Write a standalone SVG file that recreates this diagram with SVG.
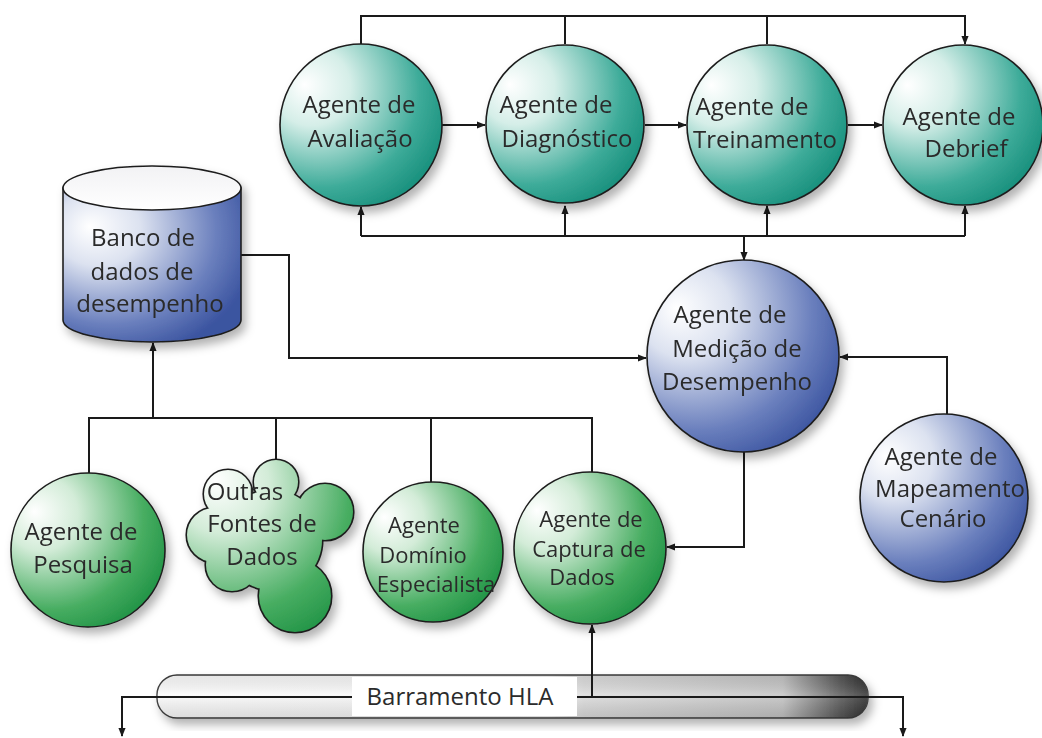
<svg xmlns="http://www.w3.org/2000/svg" width="1042" height="738" viewBox="0 0 1042 738">
  <defs>
    <radialGradient id="gTeal" cx="0.3" cy="0.3" r="0.8" fx="0.15" fy="0.25">
      <stop offset="0" stop-color="#ffffff"/>
      <stop offset="0.3" stop-color="#d5eee8"/>
      <stop offset="0.75" stop-color="#3dab99"/>
      <stop offset="1" stop-color="#168e7b"/>
    </radialGradient>
    <radialGradient id="gGreen" cx="0.3" cy="0.3" r="0.8" fx="0.15" fy="0.25">
      <stop offset="0" stop-color="#ffffff"/>
      <stop offset="0.3" stop-color="#d3ecd8"/>
      <stop offset="0.75" stop-color="#47ad61"/>
      <stop offset="1" stop-color="#1f9245"/>
    </radialGradient>
    <radialGradient id="gBlue" cx="0.3" cy="0.3" r="0.8" fx="0.15" fy="0.25">
      <stop offset="0" stop-color="#ffffff"/>
      <stop offset="0.3" stop-color="#dce2f0"/>
      <stop offset="0.75" stop-color="#6a7fbd"/>
      <stop offset="1" stop-color="#3b54a0"/>
    </radialGradient>
    <radialGradient id="gCloud" gradientUnits="userSpaceOnUse" cx="235" cy="495" r="160" fx="215" fy="480">
      <stop offset="0" stop-color="#ffffff"/>
      <stop offset="0.3" stop-color="#d3ecd8"/>
      <stop offset="0.75" stop-color="#47ad61"/>
      <stop offset="1" stop-color="#1f9245"/>
    </radialGradient>
    <linearGradient id="gCylTop" x1="0" y1="0" x2="0" y2="1">
      <stop offset="0" stop-color="#f2f2f4"/>
      <stop offset="1" stop-color="#ffffff"/>
    </linearGradient>
    <linearGradient id="gTube" x1="0" y1="0" x2="1" y2="0">
      <stop offset="0" stop-color="#fbfbfb"/>
      <stop offset="0.55" stop-color="#f4f4f4"/>
      <stop offset="0.6" stop-color="#dcdcdc"/>
      <stop offset="0.88" stop-color="#c4c4c4"/>
      <stop offset="0.96" stop-color="#5a5a5a"/>
      <stop offset="1" stop-color="#2e2e2e"/>
    </linearGradient>
    <linearGradient id="gTubeShade" x1="0" y1="0" x2="0" y2="1">
      <stop offset="0" stop-color="#000" stop-opacity="0.08"/>
      <stop offset="0.45" stop-color="#fff" stop-opacity="0.15"/>
      <stop offset="1" stop-color="#000" stop-opacity="0.12"/>
    </linearGradient>
    <filter id="shadow" x="-20%" y="-20%" width="150%" height="150%">
      <feDropShadow dx="4" dy="6" stdDeviation="5" flood-color="#000" flood-opacity="0.3"/>
    </filter>
    <marker id="arrow" viewBox="0 0 10 10" refX="9" refY="5" markerWidth="9" markerHeight="9" markerUnits="userSpaceOnUse" orient="auto">
      <path d="M0,1 L10,5 L0,9 z" fill="#1a1a1a"/>
    </marker>
  </defs>
  <style>
    .node { stroke: #1e1e1e; stroke-width: 1.6; }
    .lbl { font-family: "Open Sans", "DejaVu Sans", sans-serif; font-size: 24px; fill: #2b2b2b; text-anchor: middle; }
    .sm { font-size: 22px; }
    .wire { fill: none; stroke: #1a1a1a; stroke-width: 2; }
    .arr { marker-end: url(#arrow); }
  </style>

  <rect width="1042" height="738" fill="#ffffff"/>

  <!-- HLA bus tube -->
  <g id="barramento-hla">
    <rect x="157" y="675" width="711" height="43" rx="20" fill="url(#gTube)" stroke="#3a3a3a" stroke-width="1.4" filter="url(#shadow)"/>
    <rect x="157" y="675" width="711" height="43" rx="20" fill="url(#gTubeShade)"/>
    <rect x="352" y="677" width="225" height="39" fill="#ffffff"/>
    <text class="lbl" x="460" y="705">Barramento HLA</text>
  </g>

  <!-- connectors -->
  <g id="connectors">
    <!-- top distribution line into Debrief -->
    <path class="wire arr" d="M361,44 V16 H965 V44"/>
    <path class="wire" d="M565,44 V16"/>
    <path class="wire" d="M767,44 V16"/>
    <!-- chain of top agents -->
    <path class="wire arr" d="M442,125 H485"/>
    <path class="wire arr" d="M645,125 H686"/>
    <path class="wire arr" d="M848,125 H882"/>
    <!-- lower line feeding the top agents -->
    <path class="wire" d="M361,236 H965"/>
    <path class="wire arr" d="M361,236 V207"/>
    <path class="wire arr" d="M565,236 V206"/>
    <path class="wire arr" d="M767,236 V206"/>
    <path class="wire arr" d="M965,236 V206"/>
    <path class="wire arr" d="M744,236 V260"/>
    <!-- database to performance measurement -->
    <path class="wire arr" d="M241,255 H289 V358 H646"/>
    <!-- scenario mapping to performance measurement -->
    <path class="wire arr" d="M947,414 V357 H840"/>
    <!-- performance measurement to data capture -->
    <path class="wire arr" d="M744,452 V547 H667"/>
    <!-- data sources line into database -->
    <path class="wire" d="M89,473 V418 H592 V472"/>
    <path class="wire" d="M276,418 V460"/>
    <path class="wire" d="M431,418 V482"/>
    <path class="wire arr" d="M153,418 V343"/>
    <!-- HLA bus links -->
    <path class="wire arr" d="M592,697 V625"/>
    <path class="wire arr" d="M352,697 H122 V736"/>
    <path class="wire arr" d="M577,697 H903 V736"/>
  </g>

  <g id="agente-avaliacao" filter="url(#shadow)">
    <circle class="node" cx="361" cy="125" r="81" fill="url(#gTeal)"/>
    <text class="lbl" x="359" y="113">Agente de</text>
    <text class="lbl" x="360" y="147">Avaliação</text>
  </g>
  <g id="agente-diagnostico" filter="url(#shadow)">
    <circle class="node" cx="565" cy="124" r="79" fill="url(#gTeal)"/>
    <text class="lbl" x="556" y="113">Agente de</text>
    <text class="lbl" x="567" y="147">Diagnóstico</text>
  </g>
  <g id="agente-treinamento" filter="url(#shadow)">
    <circle class="node" cx="767" cy="125" r="80" fill="url(#gTeal)"/>
    <text class="lbl" x="752" y="115">Agente de</text>
    <text class="lbl" x="765" y="148">Treinamento</text>
  </g>
  <g id="agente-debrief" filter="url(#shadow)">
    <circle class="node" cx="963" cy="125" r="80" fill="url(#gTeal)"/>
    <text class="lbl" x="959" y="125">Agente de</text>
    <text class="lbl" x="966" y="157">Debrief</text>
  </g>

  <g id="banco-de-dados" filter="url(#shadow)">
    <path class="node" d="M63,188 V320 A89,22 0 0 0 241,320 V188 Z" fill="url(#gBlue)"/>
    <ellipse class="node" cx="152" cy="188" rx="89" ry="22" fill="url(#gCylTop)"/>
    <text class="lbl" x="143" y="246">Banco de</text>
    <text class="lbl" x="142" y="280">dados de</text>
    <text class="lbl" x="150" y="312">desempenho</text>
  </g>

  <g id="agente-medicao" filter="url(#shadow)">
    <circle class="node" cx="743" cy="356" r="96" fill="url(#gBlue)"/>
    <text class="lbl" x="730" y="323">Agente de</text>
    <text class="lbl" x="737" y="357">Medição de</text>
    <text class="lbl" x="737" y="390">Desempenho</text>
  </g>

  <g id="agente-mapeamento" filter="url(#shadow)">
    <circle class="node" cx="944" cy="498" r="84" fill="url(#gBlue)"/>
    <text class="lbl" x="941" y="465">Agente de</text>
    <text class="lbl" x="950" y="497">Mapeamento</text>
    <text class="lbl" x="943" y="527">Cenário</text>
  </g>

  <g id="agente-pesquisa" filter="url(#shadow)">
    <circle class="node" cx="88" cy="550" r="77" fill="url(#gGreen)"/>
    <text class="lbl" x="81" y="540">Agente de</text>
    <text class="lbl" x="83" y="573">Pesquisa</text>
  </g>

  <!-- cloud: stroked lobes underneath, filled lobes on top, leaving only the outer outline -->
  <g id="outras-fontes" filter="url(#shadow)">
    <g stroke="#1e1e1e" stroke-width="3.2" fill="#1e1e1e">
      <circle cx="276" cy="482" r="22"/>
      <circle cx="228" cy="494" r="24"/>
      <circle cx="214" cy="535" r="27"/>
      <circle cx="232" cy="565" r="26"/>
      <circle cx="295" cy="596" r="36"/>
      <circle cx="325" cy="512" r="28"/>
      <circle cx="272" cy="540" r="50"/>
    </g>
    <g fill="url(#gCloud)">
      <circle cx="276" cy="482" r="22"/>
      <circle cx="228" cy="494" r="24"/>
      <circle cx="214" cy="535" r="27"/>
      <circle cx="232" cy="565" r="26"/>
      <circle cx="295" cy="596" r="36"/>
      <circle cx="325" cy="512" r="28"/>
      <circle cx="272" cy="540" r="50"/>
    </g>
    <text class="lbl" x="245" y="500">Outras</text>
    <text class="lbl" x="262" y="532">Fontes de</text>
    <text class="lbl" x="262" y="565">Dados</text>
  </g>

  <g id="agente-dominio" filter="url(#shadow)">
    <circle class="node" cx="433" cy="552" r="70" fill="url(#gGreen)"/>
    <text class="lbl sm" x="424" y="533">Agente</text>
    <text class="lbl sm" x="423" y="563">Domínio</text>
    <text class="lbl sm" x="436" y="592">Especialista</text>
  </g>

  <g id="agente-captura" filter="url(#shadow)">
    <circle class="node" cx="590" cy="548" r="76" fill="url(#gGreen)"/>
    <text class="lbl sm" x="591" y="527">Agente de</text>
    <text class="lbl sm" x="589" y="557">Captura de</text>
    <text class="lbl sm" x="582" y="585">Dados</text>
  </g>
</svg>
